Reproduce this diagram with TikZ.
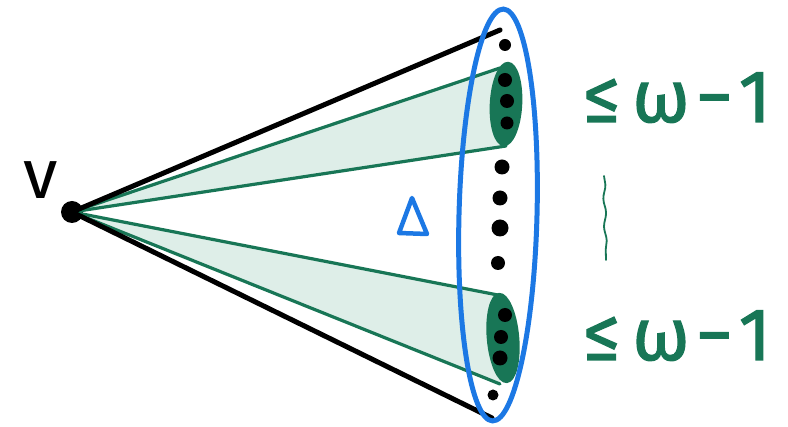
\documentclass[tikz,border=0pt]{standalone}
\usepackage{fontspec}
\setmainfont{Fira Sans}
\newfontfamily\lblfont[FakeBold=1.6]{Fira Sans}
\usetikzlibrary{decorations.pathmorphing,shapes.geometric}
\definecolor{hblue}{RGB}{28,120,228}
\definecolor{hgreen}{RGB}{24,118,86}
\definecolor{hfill}{RGB}{222,238,232}
\tikzset{
  blackedge/.style={line width=5pt, line cap=round, black},
  greenedge/.style={line width=3.2pt, line cap=round, hgreen},
  dotnode/.style={circle, fill=black, inner sep=0pt, minimum size=#1},
  groupell/.style={ellipse, draw=hgreen, line width=2.5pt, fill=hgreen},
  lbl/.style={text=hgreen, font=\lblfont\fontsize{74}{76}\selectfont, anchor=base west, inner sep=0pt},
}
\begin{document}
\begin{tikzpicture}[x=1pt,y=-1pt]
\useasboundingbox (0,0) rectangle (788,427);
% vertex
\node[dotnode=22pt] (v) at (72,212) {};
\node[font=\fontsize{70}{70}\selectfont, anchor=base, inner sep=0pt] (vl) at (41,199) {v};
% endpoints
\coordinate (bt) at (500,30);
\coordinate (bb) at (492,418);
\coordinate (g1a) at (500,68);
\coordinate (g1b) at (506,146);
\coordinate (g2a) at (503,296);
\coordinate (g2b) at (500,384);
% shaded cones
\fill[hfill] (v.center) -- (g1a) -- (g1b) -- cycle;
\fill[hfill] (v.center) -- (g2a) -- (g2b) -- cycle;
\draw[greenedge] (v.center) -- (g1a);
\draw[greenedge] (v.center) -- (g1b);
\draw[greenedge] (v.center) -- (g2a);
\draw[greenedge] (v.center) -- (g2b);
% black outer edges
\draw[blackedge] (v.center) -- (bt);
\draw[blackedge] (v.center) -- (bb);
% groups
\node[groupell, minimum width=30pt, minimum height=82pt, rotate=-3] (e1) at (506,104) {};
\node[groupell, minimum width=30pt, minimum height=88pt, rotate=5] (e2) at (503,338) {};
\node[dotnode=14pt] (d1) at (505,80) {};
\node[dotnode=14pt] (d2) at (507,101) {};
\node[dotnode=13pt] (d3) at (507,123) {};
\node[dotnode=14pt] (d4) at (505,315) {};
\node[dotnode=14pt] (d5) at (501,337) {};
\node[dotnode=15pt] (d6) at (500,358) {};
% other dots
\node[dotnode=12pt] (c1) at (505,45) {};
\node[dotnode=15pt] (c2) at (502,167) {};
\node[dotnode=15pt] (c3) at (500,198) {};
\node[dotnode=17pt] (c4) at (500,228) {};
\node[dotnode=14pt] (c5) at (498,263) {};
\node[dotnode=11pt] (c6) at (493,395) {};
% big blue ellipse
\node[ellipse, draw=hblue, line width=5pt, minimum width=78pt, minimum height=412pt, rotate=-1.5] (big) at (498,215) {};
% Delta
\draw[hblue, line width=4.5pt, line join=round] (399,233) -- (412,198) -- (427,234) -- cycle;
% labels
\node[lbl] (l1) at (583,122) {≤\kern12pt ω\kern6pt −\kern6pt 1};
\node[lbl] (l2) at (583,360) {≤\kern12pt ω\kern6pt −\kern6pt 1};
\draw[hgreen, line width=1.8pt, line cap=round, decorate, decoration={snake, amplitude=1.2pt, segment length=28pt}] (604,176) -- (606,260);
\end{tikzpicture}
\end{document}
